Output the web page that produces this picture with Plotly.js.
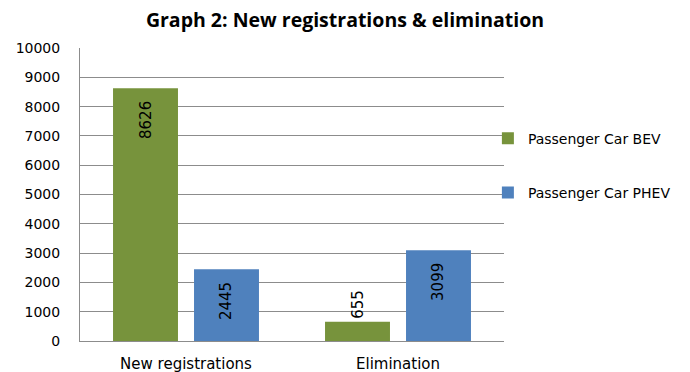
<!DOCTYPE html>
<html>
<head>
<meta charset="utf-8">
<script src="https://cdn.plot.ly/plotly-3.0.1.min.js"></script>
<style>
  html, body { margin: 0; padding: 0; background: #fff; }
  #chart { width: 690px; height: 372px; }
</style>
</head>
<body>
<div id="chart"></div>
<script>
// Registration categories and the two passenger-car series
const categories = ["New registrations", "Elimination"];
const bevValues = [8626, 655];
const phevValues = [2445, 3099];
const seriesNames = ["Passenger Car BEV", "Passenger Car PHEV"];
const yTicks = [0, 1000, 2000, 3000, 4000, 5000, 6000, 7000, 8000, 9000, 10000];

const labelFont = { family: "DejaVu Sans, Verdana, sans-serif", size: 15, color: "#000" };
// two non-breaking spaces keep the rotated value label a little below the bar top
const PAD = "\u00a0\u00a0";

function barTrace(name, values, color, group, positions) {
  return {
    type: "bar",
    name: name,
    x: categories,
    y: values,
    text: values.map(v => String(v) + PAD),
    textposition: positions,
    insidetextanchor: "end",
    textangle: -90,
    constraintext: "none",
    cliponaxis: false,
    textfont: labelFont,
    insidetextfont: labelFont,
    outsidetextfont: labelFont,
    marker: { color: color, line: { color: color, width: 0 } },
    legendgroup: group,
    hoverinfo: "x+y+name"
  };
}

const data = [
  barTrace(seriesNames[0], bevValues, "#77933C", "g1", ["inside", "outside"]),
  barTrace(seriesNames[1], phevValues, "#4F81BD", "g2", ["inside", "inside"])
];

const layout = {
  width: 690,
  height: 372,
  margin: { l: 80, r: 186, t: 48, b: 31 },
  paper_bgcolor: "#fff",
  plot_bgcolor: "#fff",
  barmode: "group",
  bargap: 0.236,
  bargroupgap: 0.198,
  showlegend: true,
  title: {
    text: "<b>Graph 2: New registrations & elimination</b>",
    x: 0.5,
    xanchor: "center",
    y: 0.945,
    yanchor: "middle",
    font: { family: "Open Sans, Noto Sans, sans-serif", size: 19.5, color: "#000" }
  },
  xaxis: {
    type: "category",
    showgrid: false,
    showline: true,
    linecolor: "#8c8c8c",
    linewidth: 1,
    ticks: "outside",
    ticklen: 9,
    tickcolor: "rgba(0,0,0,0)",
    tickfont: { family: "DejaVu Sans, Verdana, sans-serif", size: 15, color: "#000" },
    fixedrange: true
  },
  yaxis: {
    range: [0, 10000],
    tickvals: yTicks,
    ticktext: yTicks.map(String),
    showgrid: true,
    gridcolor: "#8c8c8c",
    gridwidth: 1,
    showline: true,
    linecolor: "#8c8c8c",
    linewidth: 1,
    zeroline: false,
    ticks: "",
    ticklabelstandoff: 16,
    tickfont: { family: "DejaVu Sans, Verdana, sans-serif", size: 14, color: "#000" },
    fixedrange: true
  },
  legend: {
    x: 0.962,
    xanchor: "left",
    y: 0.745,
    yanchor: "top",
    traceorder: "grouped",
    tracegroupgap: 33,
    itemwidth: 30,
    font: { family: "DejaVu Sans, Verdana, sans-serif", size: 14, color: "#000" },
    bgcolor: "rgba(0,0,0,0)"
  }
};

Plotly.newPlot("chart", data, layout, { displayModeBar: false, staticPlot: true });
</script>
</body>
</html>
